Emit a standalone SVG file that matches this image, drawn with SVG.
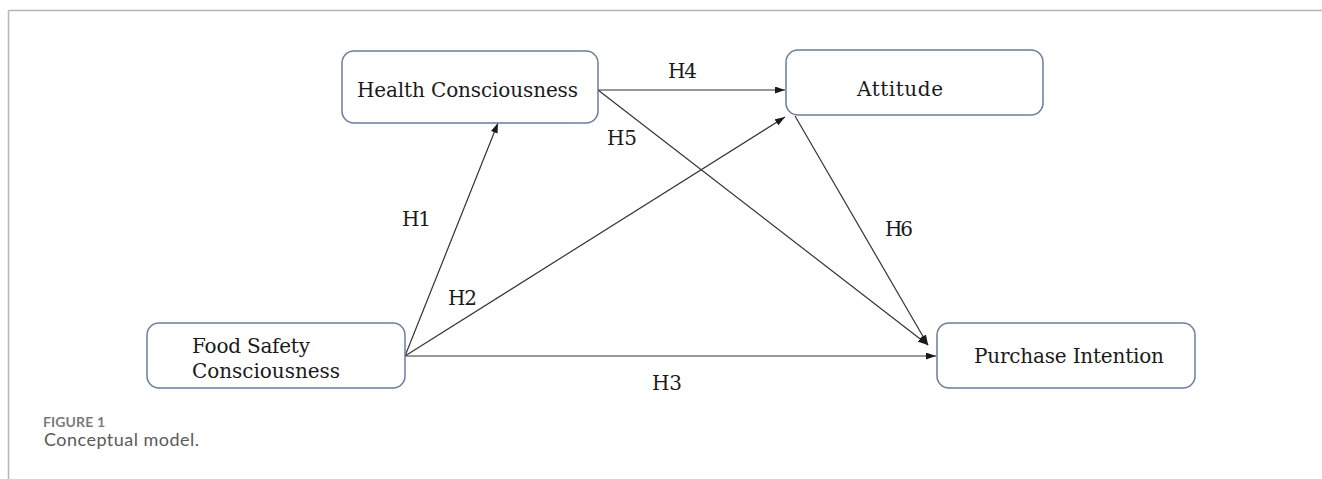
<svg xmlns="http://www.w3.org/2000/svg" width="1322" height="479" viewBox="0 0 1322 479">
  <style>
    .box { fill: #ffffff; stroke: #6a7d9f; stroke-width: 1.5; }
    .lbl { font-family: "DejaVu Serif", "Liberation Serif", serif; font-size: 20px; fill: #1a1a1a; }
    .hyp { font-family: "DejaVu Serif", "Liberation Serif", serif; font-size: 20px; fill: #1a1a1a; }
    .edge { stroke: #333333; stroke-width: 1.2; fill: none; marker-end: url(#arrow); }
    .frame { stroke: #b5b5b5; stroke-width: 1.5; fill: none; }
    .figno { font-family: Lato, "Open Sans", "Liberation Sans", sans-serif; font-size: 14px; font-weight: bold; fill: #7a7a7a; }
    .cap { font-family: Lato, "Open Sans", "Liberation Sans", sans-serif; font-size: 18px; fill: #5a5a5a; }
  </style>
  <defs>
    <marker id="arrow" markerUnits="userSpaceOnUse" markerWidth="10" markerHeight="7" viewBox="0 0 10 7" refX="10" refY="3.5" orient="auto">
      <path d="M0,0 L10,3.5 L0,7 Z" fill="#1a1a1a"/>
    </marker>
  </defs>
  <rect width="1322" height="479" fill="#ffffff"/>
  <g id="frame">
    <line class="frame" x1="8.5" y1="10.5" x2="1322" y2="10.5"/>
    <line class="frame" x1="8.5" y1="10.5" x2="8.5" y2="479"/>
  </g>
  <g id="connectors">
    <line class="edge" x1="405" y1="356" x2="498" y2="123"/>
    <line class="edge" x1="405" y1="356" x2="785" y2="117"/>
    <line class="edge" x1="405" y1="356" x2="936" y2="356"/>
    <line class="edge" x1="598" y1="90" x2="785" y2="90"/>
    <line class="edge" x1="598" y1="90" x2="928" y2="345"/>
    <line class="edge" x1="795" y1="116" x2="928" y2="345"/>
    <text class="hyp" x="402" y="226" textLength="29">H1</text>
    <text class="hyp" x="448" y="305" textLength="29">H2</text>
    <text class="hyp" x="652" y="390" textLength="30">H3</text>
    <text class="hyp" x="668" y="78" textLength="29">H4</text>
    <text class="hyp" x="607" y="145" textLength="30">H5</text>
    <text class="hyp" x="885" y="236" textLength="28">H6</text>
  </g>
  <g id="health">
    <rect class="box" x="342" y="51" width="256" height="72" rx="12"/>
    <text class="lbl" x="357" y="97" textLength="221">Health Consciousness</text>
  </g>
  <g id="attitude">
    <rect class="box" x="786" y="50" width="257" height="65" rx="12"/>
    <text class="lbl" x="857" y="96" textLength="86">Attitude</text>
  </g>
  <g id="foodsafety">
    <rect class="box" x="147" y="323" width="258" height="65" rx="12"/>
    <text class="lbl" x="192" y="353" textLength="118">Food Safety</text>
    <text class="lbl" x="192" y="378" textLength="148">Consciousness</text>
  </g>
  <g id="purchase">
    <rect class="box" x="937" y="323" width="258" height="65" rx="12"/>
    <text class="lbl" x="974" y="363" textLength="190">Purchase Intention</text>
  </g>
  <g id="caption">
    <text class="figno" x="43" y="427" textLength="62">FIGURE 1</text>
    <text class="cap" x="44" y="446" textLength="155">Conceptual model.</text>
  </g>
</svg>
